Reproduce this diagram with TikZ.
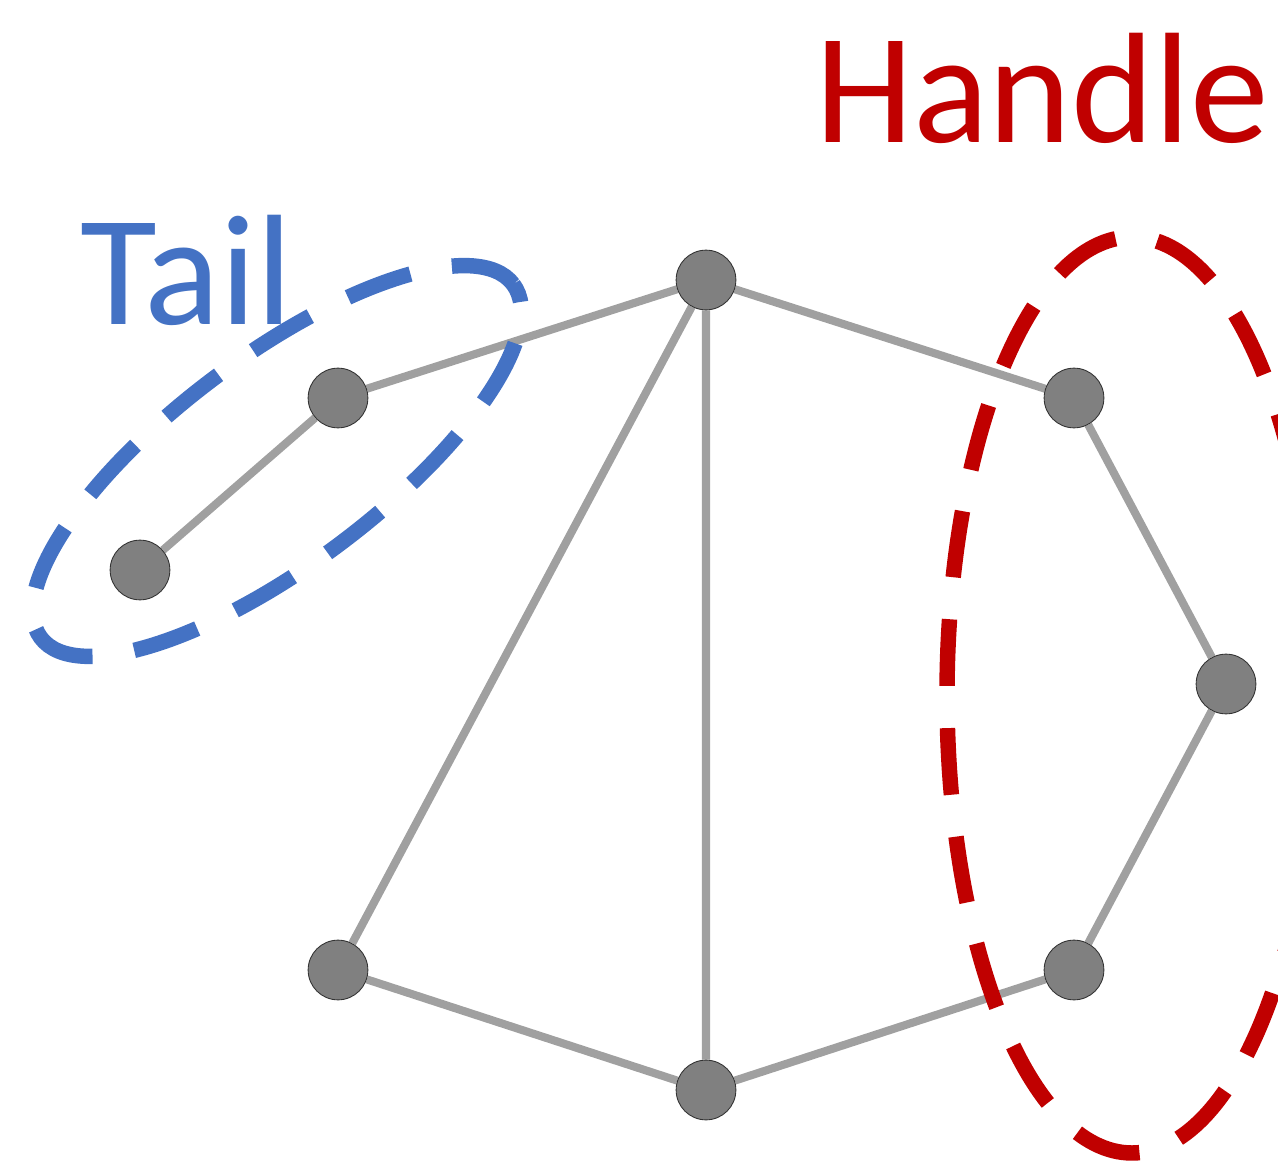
\documentclass[tikz,border=0pt]{standalone}
\usepackage{fontspec}
\setmainfont{Carlito}
\definecolor{tailblue}{HTML}{4472C4}
\definecolor{handlered}{HTML}{C00000}
\definecolor{edgegray}{HTML}{A0A0A0}
\definecolor{vertexgray}{HTML}{808080}
\pgfdeclarelayer{edges}
\pgfsetlayers{edges,main}
\begin{document}
\begin{tikzpicture}[x=0.02cm,y=0.02cm,
  vertex/.style={circle,fill=vertexgray,draw=black!80,line width=0.5pt,minimum size=34pt,inner sep=0pt},
  edge/.style={draw=edgegray,line width=4.6pt},
  group/.style={line width=8.8pt,dash pattern=on 38pt off 24pt},
  label/.style={anchor=base west,inner sep=0pt,font=\fontsize{89.6}{100}\selectfont}]
\useasboundingbox (0,0) rectangle (1278,1161);
\clip (0,0) rectangle (1278,1161);

% vertices
\node[vertex] (a) at (140,591) {};
\node[vertex] (b) at (338,763) {};
\node[vertex] (c) at (706,881) {};
\node[vertex] (d) at (1074,763) {};
\node[vertex] (e) at (1226,477) {};
\node[vertex] (f) at (1074,191) {};
\node[vertex] (g) at (706,71) {};
\node[vertex] (h) at (338,191) {};

% edges, kept beneath the vertices
\begin{pgfonlayer}{edges}
\path[edge] (a) -- (b) (b) -- (c) (c) -- (d) (d) -- (e) (e) -- (f)
  (f) -- (g) (g) -- (h) (h) -- (c) (c) -- (g);
\end{pgfonlayer}

% highlighted groups
\draw[group,draw=tailblue,rotate around={36.8:(277,700)}] (277,700) ellipse [x radius=295, y radius=104];
\draw[group,draw=handlered] (1132,466) ellipse [x radius=185, y radius=458];

% labels
\node[label,text=tailblue] (tail) at (80,836) {Tail};
\node[label,text=handlered] (handle) at (815,1018) {Handle};
\end{tikzpicture}
\end{document}
